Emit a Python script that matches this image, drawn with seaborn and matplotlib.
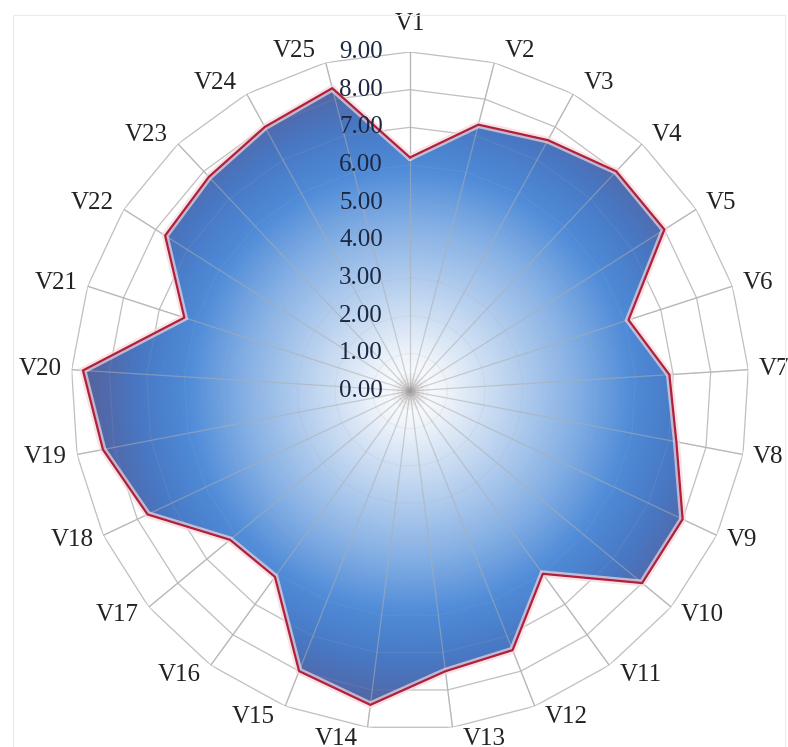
import numpy as np
import matplotlib
matplotlib.use("Agg")
import matplotlib.pyplot as plt
import seaborn as sns
from matplotlib.colors import LinearSegmentedColormap
from matplotlib.image import AxesImage
from matplotlib.patches import Rectangle

# ---- data ----
categories = [f"V{i}" for i in range(1, 26)]
values = [6.2, 7.3, 7.6, 8.0, 8.0, 6.1, 6.9, 7.2, 8.0, 8.0,
          6.0, 7.4, 7.5, 8.4, 8.0, 6.1, 6.2, 7.7, 8.3, 8.7,
          6.3, 7.7, 7.8, 8.0, 8.3]
ring_values = [0, 1, 2, 3, 4, 5, 6, 7, 8, 9]
ring_labels = [f"{v:.2f}" for v in ring_values]
r_max = 9

sns.set_style("white")
plt.rcParams["font.family"] = ["Liberation Serif", "DejaVu Serif"]

n = len(categories)
theta = np.linspace(0, 2 * np.pi, n, endpoint=False)
theta_c = np.append(theta, theta[0])
vals_c = np.append(values, values[0])

fig = plt.figure(figsize=(7.88, 7.47), dpi=100)
ax = fig.add_axes([0.0901, 0.0228, 0.8604, 0.9076], projection="polar")
ax.set_theta_zero_location("N")
ax.set_theta_direction(-1)
ax.set_ylim(0, r_max)
ax.grid(False)
ax.spines["polar"].set_visible(False)
ax.set_xticks([])
ax.set_yticks([])
ax.patch.set_alpha(0)

grid_col = "#c4c4c4"

# polygonal rings and spokes behind the series
for rv in ring_values[1:]:
    ax.plot(theta_c, [rv] * (n + 1), color=grid_col, lw=0.9, zorder=1,
            solid_joinstyle="miter")
for t in theta:
    ax.plot([t, t], [0, r_max], color=grid_col, lw=0.9, zorder=1)

# clipping shape for the gradient fill
shape = ax.fill(theta_c, vals_c, facecolor="none", edgecolor="none", zorder=2)[0]

# radial gradient clipped to the data polygon
cmap = LinearSegmentedColormap.from_list(
    "rad",
    [(0.00, "#ffffff"), (0.10, "#f0f5fb"), (0.28, "#bfd5f0"),
     (0.48, "#88b2e5"), (0.66, "#4f8bd8"), (0.80, "#4878c4"),
     (0.92, "#5267a6"), (1.00, "#585e98")])
g = np.linspace(-1, 1, 900)
gx, gy = np.meshgrid(g, g)
rr = np.clip(np.sqrt(gx ** 2 + gy ** 2), 0, 1)
img = AxesImage(ax, cmap=cmap, transform=ax.transAxes, extent=(0, 1, 0, 1),
                interpolation="bilinear", zorder=3)
img.set_data(rr)
img.set_clim(0, 1)
img.set_clip_path(shape)
ax.add_image(img)

# spokes (and faint rings) showing through the fill
for t in theta:
    ax.plot([t, t], [0, r_max], color="#aeaeae", lw=0.9, alpha=0.55, zorder=4)
for rv in ring_values[1:]:
    ax.plot(theta_c, [rv] * (n + 1), color="#aeaeae", lw=0.8, alpha=0.15,
            zorder=4)

# soft spot where the spokes meet
for s, a in [(700, 0.05), (380, 0.08), (180, 0.12), (60, 0.18)]:
    ax.scatter([0], [0], s=s, color="#8a7f80", alpha=a, lw=0, zorder=5)

# outline with a pale halo
ax.plot(theta_c, vals_c, color="#f6d6da", lw=5, alpha=0.7, zorder=5,
        solid_joinstyle="miter")
sns.lineplot(x=theta_c, y=vals_c, sort=False, estimator=None, ax=ax,
             color="#b0203c", lw=1.6, zorder=6)
ax.set_xlabel("")
ax.set_ylabel("")

px = 72 / fig.dpi  # points per pixel

# radial value labels along the first spoke
for rv, lab in zip(ring_values, ring_labels):
    ax.annotate(lab, xy=(0, rv), xytext=(-27 * px, 0), textcoords="offset points",
                ha="right", va="center", fontsize=18, color="#1c2842",
                zorder=7, annotation_clip=False)

# category labels just outside each spoke tip
for t, lab in zip(theta, categories):
    s, c = np.sin(t), np.cos(t)
    if abs(s) < 0.01:
        ha, dx, dy = "center", 0, 28 * c
    else:
        ha = "left" if s > 0 else "right"
        dx, dy = 10 * np.sign(s), 12 * c
    ax.annotate(lab, xy=(t, r_max), xytext=(dx * px, dy * px),
                textcoords="offset points", ha=ha, va="center", fontsize=18,
                color="#222222", zorder=7, annotation_clip=False)

# faint outer frame
fig.patches.append(Rectangle((13 / 788, -0.05), 772 / 788, 1.05 - 15 / 747,
                             transform=fig.transFigure, fill=False,
                             edgecolor="#ececec", lw=0.8))

fig.savefig("out.png", dpi=100, facecolor="white")
